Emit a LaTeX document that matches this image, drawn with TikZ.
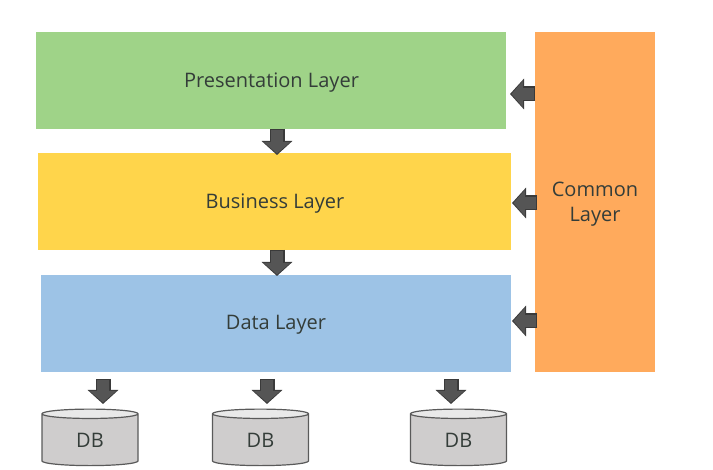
\documentclass[tikz,border=0pt]{standalone}
\usepackage{fontspec}
\setmainfont{Open Sans}
\usetikzlibrary{arrows.meta,shapes.geometric}
\definecolor{greenL}{HTML}{9FD388}
\definecolor{yellowL}{HTML}{FFD54B}
\definecolor{blueL}{HTML}{9DC3E6}
\definecolor{orangeL}{HTML}{FFAA5C}
\definecolor{inkT}{HTML}{343D39}
\definecolor{arrowEdge}{HTML}{3A3A3A}
\definecolor{arrowFill}{HTML}{555555}
\definecolor{dbBody}{HTML}{CFCDCD}
\definecolor{dbTop}{HTML}{E9E9E9}
\definecolor{dbEdge}{HTML}{5A5A5A}
\tikzset{
  layerbox/.style={anchor=north west,inner sep=0pt,outer sep=0pt},
  layertext/.style={text=inkT,font=\fontsize{20}{24.5}\selectfont,align=center},
  dbnode/.style={cylinder,shape border rotate=90,aspect=0.34,minimum width=96pt,minimum height=56.5pt,
    inner sep=0pt,outer sep=0pt,draw=dbEdge,line width=1.2pt,cylinder uses custom fill,
    cylinder body fill=dbBody,cylinder end fill=dbTop,text=inkT,font=\fontsize{20}{24}\selectfont},
  blockarrow/.style={line width=15pt,arrowEdge,-{Triangle[length=14pt,width=30pt]},
    shorten >=0pt,
    postaction={draw=arrowFill,line width=12.5pt,shorten <=1pt,shorten >=1.5pt,-{Triangle[length=11.5pt,width=26pt,color=arrowFill]}}}
}
\begin{document}
\begin{tikzpicture}[x=1pt,y=-1pt]
\useasboundingbox (0,0) rectangle (713,470);
\node[layerbox,fill=greenL,minimum width=470pt,minimum height=97pt] (pres) at (36,32) {};
\node[layerbox,fill=yellowL,minimum width=473pt,minimum height=97pt] (bus) at (38,153) {};
\node[layerbox,fill=blueL,minimum width=470pt,minimum height=97pt] (data) at (41,275) {};
\node[layerbox,fill=orangeL,minimum width=120pt,minimum height=340pt] (common) at (535,32) {};
\node[layertext] (presT) at (271.5,83) {Presentation Layer};
\node[layertext] (busT) at (275,204) {Business Layer};
\node[layertext] (dataT) at (276,325) {Data Layer};
\node[layertext] (commonT) at (595,204) {Common\\Layer};
\node[dbnode] (db1) at (90,440) {DB};
\node[dbnode] (db2) at (260.5,440) {DB};
\node[dbnode] (db3) at (458.5,440) {DB};
\coordinate (p1) at (277,129);
\coordinate (b1) at (277,155);
\coordinate (b2) at (277,250);
\coordinate (d1) at (277,276);
\coordinate (dA) at (103,379);
\coordinate (dB) at (267,379);
\coordinate (dC) at (451,379);
\coordinate (tA) at (103,404);
\coordinate (tB) at (267,404);
\coordinate (tC) at (451,404);
\coordinate (c1) at (535,94);
\coordinate (c2) at (537,203);
\coordinate (c3) at (537,321);
\coordinate (e1) at (510,94);
\coordinate (e2) at (512,203);
\coordinate (e3) at (512,321);
\draw[blockarrow] (p1) -- (b1);
\draw[blockarrow] (b2) -- (d1);
\draw[blockarrow] (dA) -- (tA);
\draw[blockarrow] (dB) -- (tB);
\draw[blockarrow] (dC) -- (tC);
\draw[blockarrow] (c1) -- (e1);
\draw[blockarrow] (c2) -- (e2);
\draw[blockarrow] (c3) -- (e3);
\end{tikzpicture}
\end{document}
